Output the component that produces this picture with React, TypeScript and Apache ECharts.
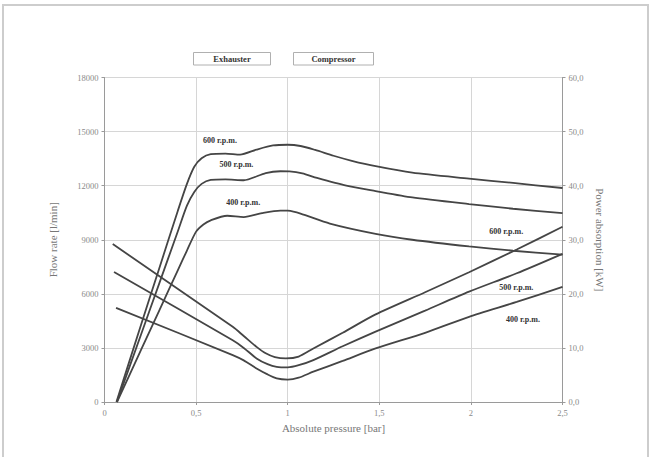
import React, { useEffect, useRef } from "react";
import * as echarts from "echarts";

// Flow rate curves (left axis, l/min) against absolute pressure (bar)
const flowPressure600 = [0.065, 0.2, 0.3, 0.4, 0.45, 0.49, 0.53, 0.58, 0.66, 0.74, 0.83, 0.92, 1.0, 1.07, 1.15, 1.25, 1.35, 1.48, 1.68, 1.99, 2.23, 2.5];
const flow600 = [0, 4300, 7450, 10600, 12100, 13050, 13520, 13750, 13780, 13720, 14000, 14230, 14270, 14200, 13980, 13660, 13380, 13080, 12720, 12390, 12150, 11870];

const flowPressure500 = [0.068, 0.2, 0.3, 0.4, 0.45, 0.49, 0.53, 0.58, 0.66, 0.76, 0.88, 0.96, 1.01, 1.08, 1.16, 1.32, 1.48, 1.68, 1.99, 2.23, 2.5];
const flow500 = [0, 3760, 6610, 9460, 10890, 11650, 12100, 12320, 12350, 12300, 12700, 12800, 12790, 12680, 12430, 12000, 11700, 11350, 10980, 10720, 10480];

const flowPressure400 = [0.068, 0.2, 0.3, 0.4, 0.45, 0.5, 0.54, 0.58, 0.67, 0.76, 0.86, 0.96, 1.0, 1.07, 1.23, 1.48, 1.68, 1.99, 2.23, 2.5];
const flow400 = [0, 2900, 5100, 7300, 8400, 9450, 9850, 10080, 10330, 10260, 10480, 10620, 10610, 10450, 9900, 9330, 9000, 8630, 8390, 8170];

// Power absorption curves (right axis, kW)
const powerPressure600 = [0.045, 0.7, 0.76, 0.83, 0.88, 0.93, 0.99, 1.06, 1.14, 1.3, 1.48, 1.75, 1.99, 2.25, 2.5];
const power600 = [29.2, 13.9, 12.2, 10.2, 9.0, 8.3, 8.06, 8.4, 9.9, 12.8, 16.2, 20.3, 24.0, 28.2, 32.4];

const powerPressure500 = [0.052, 0.7, 0.76, 0.83, 0.89, 0.94, 1.0, 1.06, 1.14, 1.3, 1.48, 1.75, 1.99, 2.25, 2.5];
const power500 = [24.05, 11.4, 10.0, 8.06, 7.0, 6.5, 6.4, 6.8, 7.75, 10.3, 13.0, 16.9, 20.4, 23.8, 27.4];

const powerPressure400 = [0.063, 0.7, 0.76, 0.83, 0.89, 0.94, 1.0, 1.06, 1.14, 1.3, 1.48, 1.75, 1.99, 2.25, 2.5];
const power400 = [17.4, 8.68, 7.7, 6.2, 5.1, 4.37, 4.15, 4.5, 5.6, 7.6, 9.9, 12.8, 15.75, 18.5, 21.3];

const rpmLabels = ["600 r.p.m.", "500 r.p.m.", "400 r.p.m."];
const legendNames = ["Exhauster", "Compressor"];

const xAxisName = "Absolute pressure [bar]";
const leftAxisName = "Flow rate [l/min]";
const rightAxisName = "Power absorption [kW]";

const SERIF = "'Liberation Serif', 'Times New Roman', serif";
const LINE = "#454545";
const AXIS = "#9a9a9a";
const GRID = "#d6d6d6";
const TICK_TEXT = "#8a8a8a";

const zip = (xs: number[], ys: number[]) => xs.map((x, i) => [x, ys[i]]);

function curve(name: string, xs: number[], ys: number[], yAxisIndex: number, label: string, at: number[]) {
  return {
    name,
    type: "line",
    yAxisIndex,
    data: zip(xs, ys),
    smooth: 0.25,
    showSymbol: false,
    symbol: "none",
    color: LINE,
    lineStyle: { color: LINE, width: 1.8 },
    markPoint: {
      symbol: "rect",
      symbolSize: 1,
      itemStyle: { color: "rgba(255,255,255,0)" },
      label: {
        show: true,
        position: "top",
        distance: -4,
        formatter: label,
        fontFamily: SERIF,
        fontSize: 8,
        fontWeight: "bold",
        color: "#333333",
        textBorderWidth: 0,
      },
      data: [{ coord: at }],
    },
  };
}

export default function App() {
  const ref = useRef<HTMLDivElement>(null);

  useEffect(() => {
    if (!ref.current) return;
    const chart = echarts.init(ref.current, null, { renderer: "svg" });

    const legendBox = (x: number, w: number, text: string) => ({
      type: "group",
      children: [
        {
          type: "rect",
          shape: { x, y: 52.5, width: w, height: 12.5 },
          style: { fill: "#fff", stroke: "#b0b0b0", lineWidth: 1 },
        },
        {
          type: "text",
          x: x + w / 2,
          y: 58.8,
          style: {
            text,
            fill: "#333",
            font: `bold 8.5px ${SERIF}`,
            align: "center",
            verticalAlign: "middle",
          },
        },
      ],
    });

    chart.setOption({
      animation: false,
      backgroundColor: "#fff",
      grid: { left: 104.5, right: 89.5, top: 77.5, bottom: 55, containLabel: false },
      graphic: [
        {
          type: "rect",
          shape: { x: 3, y: 5, width: 645, height: 470 },
          style: { fill: "none", stroke: "#cdcdcd", lineWidth: 2 },
          silent: true,
        },
        legendBox(193.5, 77, legendNames[0]),
        legendBox(293.5, 80, legendNames[1]),
      ],
      xAxis: {
        type: "value",
        min: 0,
        max: 2.5,
        interval: 0.5,
        name: xAxisName,
        nameLocation: "middle",
        nameGap: 20,
        nameTextStyle: { fontFamily: SERIF, fontSize: 11, color: "#777" },
        axisLine: { show: true, lineStyle: { color: AXIS, width: 1 } },
        axisTick: { show: true, length: 3, lineStyle: { color: AXIS } },
        axisLabel: {
          fontFamily: SERIF,
          fontSize: 8.5,
          color: TICK_TEXT,
          margin: 6,
          formatter: (v: number) => String(v).replace(".", ","),
        },
        splitLine: { show: true, lineStyle: { color: GRID, width: 1 } },
      },
      yAxis: [
        {
          type: "value",
          min: 0,
          max: 18000,
          interval: 3000,
          position: "left",
          name: leftAxisName,
          nameLocation: "middle",
          nameGap: 46,
          nameTextStyle: { fontFamily: SERIF, fontSize: 11, color: "#777" },
          axisLine: { show: true, lineStyle: { color: AXIS, width: 1 } },
          axisTick: { show: true, length: 3, lineStyle: { color: AXIS } },
          axisLabel: {
            fontFamily: SERIF,
            fontSize: 8.5,
            color: TICK_TEXT,
            margin: 6,
            formatter: (v: number) => String(v),
          },
          splitLine: { show: true, lineStyle: { color: GRID, width: 1 } },
        },
        {
          type: "value",
          min: 0,
          max: 60,
          interval: 10,
          position: "right",
          name: rightAxisName,
          nameLocation: "middle",
          nameGap: 31,
          nameRotate: -90,
          nameTextStyle: { fontFamily: SERIF, fontSize: 11, color: "#777" },
          axisLine: { show: true, lineStyle: { color: AXIS, width: 1 } },
          axisTick: { show: true, length: 3, lineStyle: { color: AXIS } },
          axisLabel: {
            fontFamily: SERIF,
            fontSize: 8.5,
            color: TICK_TEXT,
            margin: 6,
            formatter: (v: number) => v.toFixed(1).replace(".", ","),
          },
          splitLine: { show: false },
        },
      ],
      series: [
        curve("Flow 600", flowPressure600, flow600, 0, rpmLabels[0], [0.63, 14460]),
        curve("Flow 500", flowPressure500, flow500, 0, rpmLabels[1], [0.72, 13170]),
        curve("Flow 400", flowPressure400, flow400, 0, rpmLabels[2], [0.757, 11040]),
        curve("Power 600", powerPressure600, power600, 1, rpmLabels[0], [2.193, 31.4]),
        curve("Power 500", powerPressure500, power500, 1, rpmLabels[1], [2.248, 21.0]),
        curve("Power 400", powerPressure400, power400, 1, rpmLabels[2], [2.284, 15.1]),
      ],
    });

    return () => chart.dispose();
  }, []);

  return (
    <div
      ref={ref}
      style={{ position: "fixed", left: 0, top: 0, width: 652, height: 457, background: "#fff" }}
    />
  );
}
